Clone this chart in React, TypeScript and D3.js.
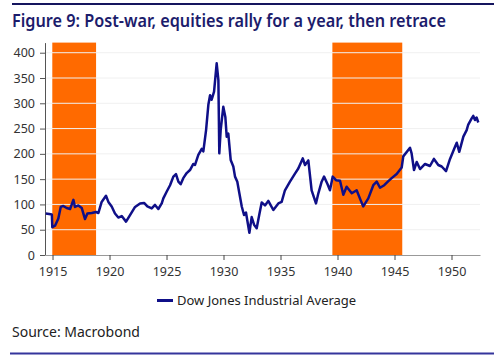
import React, { useEffect, useRef } from 'react'
import * as d3 from 'd3'

// Dow Jones Industrial Average (decimal year, index level)
const years = [
  1914.40, 1914.70, 1914.94, 1914.98, 1915.22, 1915.51, 1915.72, 1915.95, 1916.24, 1916.54,
  1916.83, 1916.97, 1917.27, 1917.56, 1917.85, 1918.06, 1918.44, 1918.82, 1919.02, 1919.31,
  1919.69, 1919.90, 1920.19, 1920.48, 1920.77, 1921.07, 1921.45, 1921.80, 1922.24, 1922.68,
  1923.03, 1923.32, 1923.70, 1923.99, 1924.28, 1924.58, 1924.72, 1925.01, 1925.31, 1925.60,
  1925.83, 1926.04, 1926.24, 1926.47, 1926.77, 1927.06, 1927.35, 1927.50, 1927.79, 1928.09,
  1928.23, 1928.47, 1928.67, 1928.82, 1928.96, 1929.17, 1929.40, 1929.55, 1929.63, 1929.75,
  1929.98, 1930.16, 1930.28, 1930.42, 1930.63, 1930.86, 1931.01, 1931.21, 1931.39, 1931.60,
  1931.80, 1931.97, 1932.27, 1932.47, 1932.68, 1932.91, 1933.14, 1933.35, 1933.64, 1933.93,
  1934.37, 1934.81, 1935.10, 1935.39, 1935.83, 1936.27, 1936.56, 1936.95, 1937.15, 1937.44,
  1937.73, 1938.11, 1938.32, 1938.61, 1938.82, 1939.11, 1939.34, 1939.58, 1939.87, 1940.22,
  1940.51, 1940.80, 1941.25, 1941.68, 1942.00, 1942.26, 1942.70, 1943.14, 1943.44, 1943.73,
  1944.10, 1944.46, 1944.75, 1945.19, 1945.63, 1945.77, 1946.36, 1946.50, 1946.71, 1946.95,
  1947.24, 1947.68, 1948.11, 1948.46, 1948.84, 1949.14, 1949.52, 1949.87, 1950.31, 1950.46,
  1950.68, 1951.04, 1951.33, 1951.47, 1951.77, 1951.91, 1952.06, 1952.20, 1952.35,
]
const dowValues = [
  82, 81, 80, 55, 58, 72, 95, 97, 93, 91,
  109, 95, 98, 93, 71, 82, 83, 85, 83, 105,
  117, 105, 96, 82, 74, 77, 66, 79, 95, 102,
  103, 96, 92, 99, 91, 102, 112, 125, 138, 155,
  160, 145, 140, 152, 162, 168, 180, 178, 198, 210,
  205, 247, 297, 316, 307, 323, 379, 346, 201, 247,
  293, 273, 234, 240, 188, 175, 155, 145, 122, 96,
  79, 84, 44, 75, 60, 53, 80, 104, 98, 107,
  89, 102, 105, 128, 145, 161, 171, 191, 178, 187,
  128, 102, 122, 145, 155, 141, 128, 155, 148, 147,
  119, 135, 122, 128, 110, 96, 112, 138, 145, 133,
  138, 146, 152, 160, 173, 195, 212, 201, 168, 184,
  170, 180, 176, 190, 178, 175, 166, 190, 214, 222,
  204, 234, 247, 258, 270, 275, 267, 272, 262,
]

// shaded war periods
const warStarts = [1914.98, 1939.55]
const warEnds = [1918.82, 1945.68]

const yTicks = [0, 50, 100, 150, 200, 250, 300, 350, 400]
const xTicks = [1915, 1920, 1925, 1930, 1935, 1940, 1945, 1950]

const title = 'Figure 9: Post-war, equities rally for a year, then retrace'
const seriesName = 'Dow Jones Industrial Average'
const source = 'Source: Macrobond'

const width = 500
const height = 362
const margin = { top: 42.6, right: 20, bottom: 107, left: 45 }

const navy = '#0f0f88'
const orange = '#ff6a00'
const font = "'Noto Sans', 'Open Sans', sans-serif"

interface Point { year: number; value: number }

const data: Point[] = years.map((year, i) => ({ year, value: dowValues[i] }))

const x = d3.scaleLinear()
  .domain([1914.34, 1952.5])
  .range([margin.left, width - margin.right])

const y = d3.scaleLinear()
  .domain([0, 420])
  .range([height - margin.bottom, margin.top])

function Chart() {
  const ref = useRef<SVGSVGElement>(null)

  useEffect(() => {
    const svg = d3.select(ref.current)
    svg.selectAll('*').remove()

    // header rule + title
    svg.append('line')
      .attr('x1', 12).attr('x2', 494).attr('y1', 4).attr('y2', 4)
      .attr('stroke', '#15155e').attr('stroke-width', 2)
    svg.append('text')
      .attr('x', 12).attr('y', 27)
      .attr('font-family', font).attr('font-size', 17).attr('font-weight', 600)
      .attr('fill', '#1c1c6c')
      .attr('textLength', 434).attr('lengthAdjust', 'spacingAndGlyphs')
      .text(title)

    // war shading
    svg.append('g')
      .selectAll('rect')
      .data(warStarts)
      .join('rect')
      .attr('x', d => x(d))
      .attr('width', (d, i) => x(warEnds[i]) - x(d))
      .attr('y', y(420))
      .attr('height', y(0) - y(420))
      .attr('fill', orange)

    // gridlines
    svg.append('g')
      .selectAll('line')
      .data(yTicks.filter(d => d > 0))
      .join('line')
      .attr('x1', margin.left).attr('x2', width - margin.right)
      .attr('y1', d => y(d)).attr('y2', d => y(d))
      .attr('stroke', '#f0f0f0').attr('stroke-width', 1)

    // axes
    const yAxis = svg.append('g')
      .attr('transform', `translate(${margin.left},0)`)
      .call(d3.axisLeft(y).tickValues(yTicks).tickSize(5).tickSizeOuter(0).tickPadding(5))
    yAxis.select('.domain').attr('stroke', '#555')
    yAxis.selectAll('.tick line').attr('stroke', '#555')
    yAxis.selectAll('.tick text')
      .attr('font-family', font).attr('font-size', 12.5).attr('fill', '#333')

    const xAxis = svg.append('g')
      .attr('transform', `translate(0,${height - margin.bottom})`)
      .call(d3.axisBottom(x).tickValues(xTicks).tickFormat(d3.format('d'))
        .tickSize(5).tickSizeOuter(0).tickPadding(7))
    xAxis.select('.domain').attr('stroke', '#999')
    xAxis.selectAll('.tick line').attr('stroke', '#444')
    xAxis.selectAll('.tick text')
      .attr('font-family', font).attr('font-size', 12.5).attr('fill', '#333')

    // series
    const line = d3.line<Point>()
      .x(d => x(d.year))
      .y(d => y(d.value))
    svg.append('path')
      .datum(data)
      .attr('fill', 'none')
      .attr('stroke', navy)
      .attr('stroke-width', 2.5)
      .attr('stroke-linejoin', 'round')
      .attr('d', line)

    // legend
    svg.append('line')
      .attr('x1', 157).attr('x2', 173).attr('y1', 300.5).attr('y2', 300.5)
      .attr('stroke', navy).attr('stroke-width', 3)
    svg.append('text')
      .attr('x', 177).attr('y', 305)
      .attr('font-family', font).attr('font-size', 13).attr('fill', '#222')
      .text(seriesName)

    // source + footer rule
    svg.append('text')
      .attr('x', 12).attr('y', 337)
      .attr('font-family', font).attr('font-size', 14).attr('fill', '#222')
      .text(source)
    svg.append('line')
      .attr('x1', 10).attr('x2', 494).attr('y1', 353.5).attr('y2', 353.5)
      .attr('stroke', '#35359c').attr('stroke-width', 2)
  }, [])

  return (
    <svg ref={ref} width={width} height={height}
      style={{ position: 'absolute', left: 0, top: 0, background: '#fff' }} />
  )
}

export default function App() {
  return <Chart />
}
